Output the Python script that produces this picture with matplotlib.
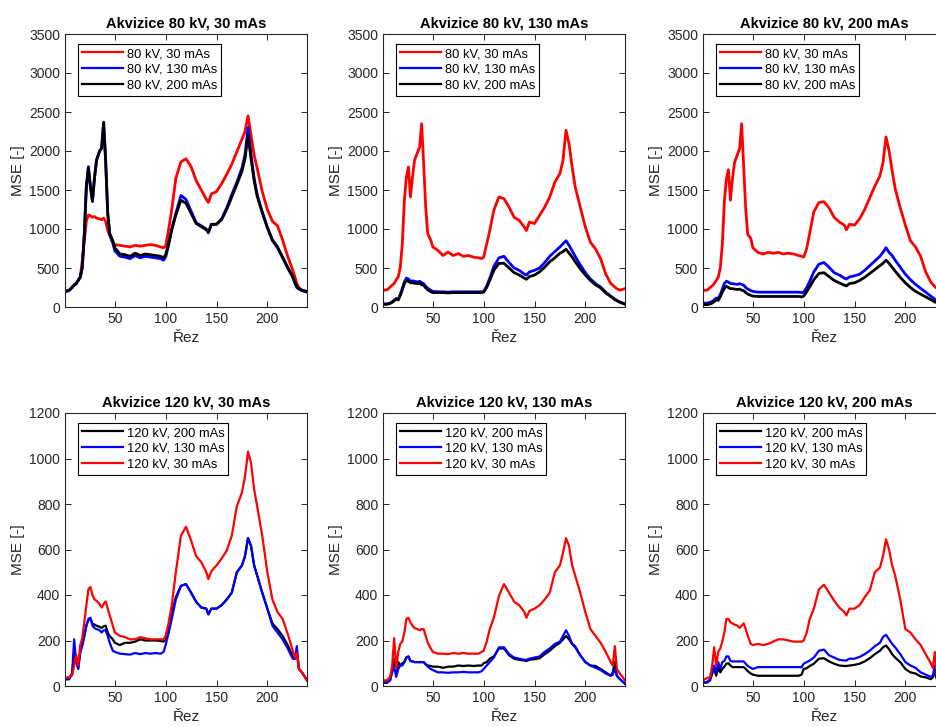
import matplotlib
matplotlib.use("Agg")
import matplotlib.pyplot as plt

plt.rcParams['font.family'] = ['Liberation Sans', 'DejaVu Sans']

# rez (slice index) - shared x grid
rez = [1, 5, 8, 10, 12, 14, 16, 18, 20, 22,
       24, 26, 28, 30, 32, 35, 37, 39, 41, 43,
       45, 48, 50, 55, 60, 65, 70, 75, 80, 85,
       90, 95, 98, 100, 103, 106, 110, 115, 120, 125,
       130, 135, 140, 142, 145, 150, 155, 160, 165, 170,
       175, 178, 181, 184, 187, 190, 195, 200, 205, 210,
       215, 220, 225, 227, 229, 231, 234, 239]

# Akvizice 80 kV, 30 mAs
akv80_30_s30 = [200, 210, 250, 280, 300, 340, 380, 600, 850, 1100,
                1180, 1170, 1150, 1160, 1140, 1130, 1120, 1140, 1100, 980,
                920, 830, 800, 790, 780, 770, 790, 780, 790, 800,
                790, 770, 760, 780, 1000, 1250, 1650, 1860, 1900, 1800,
                1620, 1500, 1380, 1340, 1450, 1480, 1580, 1700, 1830, 1990,
                2150, 2250, 2450, 2200, 1950, 1780, 1480, 1250, 1100, 1040,
                860, 650, 470, 390, 300, 250, 210, 200]
akv80_30_s130 = [200, 210, 250, 280, 300, 340, 380, 500, 950, 1550,
                 1800, 1550, 1350, 1650, 1880, 2000, 2030, 2360, 1850, 1200,
                 930, 820, 720, 650, 640, 620, 660, 630, 650, 640,
                 630, 620, 600, 640, 800, 1000, 1200, 1430, 1380, 1230,
                 1080, 1040, 1000, 950, 1060, 1060, 1130, 1270, 1440, 1600,
                 1780, 1950, 2300, 1950, 1650, 1440, 1220, 1020, 850, 760,
                 630, 500, 380, 310, 250, 230, 210, 190]
akv80_30_s200 = [200, 215, 255, 285, 300, 345, 385, 510, 940, 1540,
                 1780, 1540, 1360, 1660, 1880, 2000, 2040, 2370, 1880, 1200,
                 940, 850, 760, 680, 670, 650, 690, 660, 680, 670,
                 660, 650, 630, 670, 820, 990, 1180, 1370, 1330, 1200,
                 1070, 1030, 990, 960, 1060, 1060, 1120, 1250, 1410, 1570,
                 1740, 1900, 2200, 1900, 1620, 1420, 1210, 1020, 860, 770,
                 640, 510, 390, 320, 260, 240, 215, 200]

# Akvizice 80 kV, 130 mAs
akv80_130_s30 = [215, 220, 255, 280, 300, 350, 385, 510, 810, 1365,
                 1665, 1795, 1410, 1665, 1880, 1985, 2050, 2350, 1835, 1280,
                 940, 855, 770, 725, 660, 705, 660, 685, 650, 660,
                 640, 630, 620, 640, 810, 980, 1240, 1410, 1390, 1280,
                 1150, 1110, 1025, 980, 1090, 1070, 1175, 1280, 1410, 1600,
                 1710, 1880, 2265, 2090, 1795, 1540, 1280, 1025, 830, 745,
                 620, 425, 300, 280, 255, 235, 215, 235]
akv80_130_s130 = [40, 40, 50, 65, 90, 110, 100, 160, 240, 320,
                  370, 360, 330, 335, 330, 320, 330, 310, 300, 265,
                  240, 215, 200, 195, 195, 190, 195, 195, 195, 195,
                  195, 195, 195, 200, 270, 370, 520, 630, 650, 570,
                  500, 470, 420, 410, 450, 470, 500, 570, 650, 710,
                  770, 810, 850, 790, 720, 650, 540, 440, 360, 300,
                  255, 190, 140, 120, 100, 85, 65, 40]
akv80_130_s200 = [35, 35, 45, 60, 80, 100, 90, 150, 220, 300,
                  340, 330, 310, 310, 305, 300, 305, 285, 280, 245,
                  220, 195, 185, 185, 185, 180, 185, 185, 185, 185,
                  185, 185, 185, 190, 250, 340, 470, 560, 560, 500,
                  440, 410, 370, 355, 390, 410, 450, 510, 580, 630,
                  690, 710, 740, 690, 640, 580, 490, 410, 340, 285,
                  245, 180, 135, 115, 95, 80, 60, 35]

# Akvizice 80 kV, 200 mAs
akv80_200_s30 = [215, 215, 250, 270, 300, 340, 380, 500, 800, 1350,
                 1640, 1760, 1370, 1650, 1850, 1960, 2030, 2350, 1800, 1260,
                 930, 880, 760, 700, 680, 700, 690, 700, 680, 690,
                 680, 660, 650, 640, 750, 950, 1220, 1340, 1350, 1270,
                 1150, 1090, 1050, 990, 1060, 1050, 1130, 1250, 1400, 1550,
                 1680, 1850, 2180, 2000, 1750, 1520, 1270, 1050, 850, 770,
                 650, 450, 320, 290, 260, 240, 220, 230]
akv80_200_s130 = [50, 50, 60, 70, 90, 115, 110, 160, 230, 300,
                  330, 320, 300, 300, 295, 290, 300, 290, 280, 250,
                  230, 210, 200, 190, 190, 190, 190, 190, 190, 190,
                  190, 190, 185, 190, 250, 330, 450, 550, 570, 510,
                  440, 410, 370, 360, 385, 400, 420, 470, 530, 590,
                  650, 700, 760, 700, 660, 600, 510, 420, 350, 290,
                  240, 190, 140, 120, 100, 85, 65, 45]
akv80_200_s200 = [30, 30, 40, 50, 70, 90, 85, 130, 190, 240,
                  265, 250, 235, 235, 230, 225, 230, 215, 210, 185,
                  165, 150, 140, 135, 135, 135, 135, 135, 135, 135,
                  135, 135, 130, 140, 195, 260, 350, 430, 440, 390,
                  340, 310, 280, 270, 300, 310, 340, 380, 430, 480,
                  530, 560, 600, 560, 510, 460, 380, 310, 250, 200,
                  165, 130, 95, 80, 65, 55, 40, 25]

# Akvizice 120 kV, 30 mAs
akv120_30_s200 = [30, 30, 55, 150, 110, 80, 150, 180, 220, 265,
                  290, 295, 275, 270, 265, 260, 255, 262, 265, 235,
                  220, 205, 190, 180, 190, 190, 195, 205, 200, 200,
                  200, 198, 195, 205, 265, 320, 390, 440, 448, 410,
                  370, 345, 340, 315, 340, 340, 355, 380, 410, 500,
                  530, 570, 650, 615, 530, 485, 410, 340, 275, 250,
                  220, 180, 130, 120, 150, 75, 60, 25]
akv120_30_s130 = [30, 30, 55, 205, 105, 75, 150, 180, 220, 265,
                  295, 300, 265, 255, 250, 245, 235, 245, 245, 220,
                  190, 155, 150, 142, 140, 138, 145, 140, 145, 142,
                  145, 142, 150, 180, 235, 295, 380, 440, 448, 410,
                  370, 345, 340, 315, 340, 340, 355, 380, 410, 500,
                  530, 570, 650, 615, 530, 485, 410, 340, 265, 235,
                  205, 165, 120, 120, 175, 75, 60, 25]
akv120_30_s30 = [35, 40, 47, 90, 135, 90, 180, 210, 280, 355,
                 425, 435, 400, 380, 375, 360, 345, 360, 372, 340,
                 310, 265, 235, 220, 215, 205, 205, 215, 210, 205,
                 205, 205, 205, 220, 280, 355, 500, 660, 700, 640,
                 570, 545, 500, 470, 505, 530, 560, 595, 660, 790,
                 850, 920, 1030, 980, 865, 790, 660, 500, 380, 325,
                 295, 230, 155, 125, 145, 75, 60, 25]

# Akvizice 120 kV, 130 mAs
akv120_130_s200 = [15, 15, 25, 75, 120, 60, 105, 90, 100, 105,
                   125, 130, 110, 108, 105, 105, 105, 105, 105, 95,
                   90, 88, 85, 85, 80, 85, 85, 90, 88, 90,
                   88, 90, 90, 100, 105, 120, 130, 165, 165, 135,
                   120, 115, 112, 110, 115, 118, 122, 140, 155, 175,
                   190, 205, 220, 205, 185, 170, 135, 105, 90, 88,
                   75, 60, 45, 60, 105, 45, 30, 10]
akv120_130_s130 = [15, 15, 25, 60, 85, 40, 75, 90, 90, 105,
                   125, 130, 110, 108, 105, 105, 105, 105, 105, 95,
                   85, 75, 70, 60, 60, 58, 60, 60, 62, 60,
                   60, 60, 65, 75, 90, 105, 125, 170, 170, 140,
                   125, 120, 115, 115, 120, 125, 130, 150, 165, 185,
                   195, 220, 245, 220, 185, 175, 135, 105, 90, 80,
                   70, 55, 45, 50, 75, 45, 30, 10]
akv120_130_s30 = [25, 25, 40, 90, 210, 75, 150, 185, 195, 235,
                  295, 300, 280, 265, 255, 250, 245, 250, 250, 220,
                  190, 165, 150, 142, 142, 140, 145, 142, 145, 142,
                  142, 142, 150, 155, 195, 250, 300, 395, 448, 410,
                  370, 355, 325, 300, 330, 340, 355, 380, 410, 500,
                  530, 585, 650, 615, 530, 485, 410, 325, 250, 220,
                  190, 150, 105, 90, 175, 75, 55, 25]

# Akvizice 120 kV, 200 mAs
akv120_200_s200 = [15, 15, 25, 55, 75, 45, 80, 60, 75, 85,
                   98, 100, 90, 83, 83, 83, 83, 83, 83, 75,
                   65, 55, 50, 45, 45, 45, 45, 45, 45, 45,
                   45, 45, 50, 75, 78, 88, 98, 120, 122, 108,
                   98, 90, 88, 88, 90, 93, 98, 108, 122, 140,
                   155, 170, 178, 162, 140, 125, 105, 75, 60, 55,
                   42, 38, 30, 38, 60, 30, 20, 10]
akv120_200_s130 = [15, 18, 30, 60, 90, 60, 105, 75, 105, 110,
                   130, 130, 110, 108, 108, 108, 108, 108, 108, 98,
                   88, 80, 75, 83, 83, 83, 83, 83, 83, 83,
                   83, 83, 83, 98, 105, 112, 125, 155, 160, 135,
                   125, 115, 112, 112, 120, 120, 128, 140, 155, 175,
                   190, 215, 225, 205, 185, 170, 140, 105, 90, 80,
                   60, 50, 40, 45, 90, 40, 25, 10]
akv120_200_s30 = [25, 35, 40, 90, 170, 90, 150, 165, 195, 235,
                  295, 295, 280, 275, 270, 265, 255, 265, 275, 250,
                  220, 185, 180, 185, 180, 185, 195, 205, 205, 200,
                  195, 195, 195, 200, 235, 295, 340, 425, 445, 410,
                  375, 345, 325, 310, 340, 340, 355, 390, 420, 500,
                  520, 570, 645, 600, 530, 485, 380, 250, 235, 205,
                  180, 140, 100, 80, 150, 55, 30, 15]

titles = ['Akvizice 80 kV, 30 mAs', 'Akvizice 80 kV, 130 mAs', 'Akvizice 80 kV, 200 mAs',
          'Akvizice 120 kV, 30 mAs', 'Akvizice 120 kV, 130 mAs', 'Akvizice 120 kV, 200 mAs']
labels80 = ['80 kV, 30 mAs', '80 kV, 130 mAs', '80 kV, 200 mAs']
labels120 = ['120 kV, 200 mAs', '120 kV, 130 mAs', '120 kV, 30 mAs']
colors80 = ['#ff0000', '#0000ff', '#000000']
colors120 = ['#000000', '#0000ff', '#ff0000']

panels = [
    [akv80_30_s30, akv80_30_s130, akv80_30_s200],
    [akv80_130_s30, akv80_130_s130, akv80_130_s200],
    [akv80_200_s30, akv80_200_s130, akv80_200_s200],
    [akv120_30_s200, akv120_30_s130, akv120_30_s30],
    [akv120_130_s200, akv120_130_s130, akv120_130_s30],
    [akv120_200_s200, akv120_200_s130, akv120_200_s30],
]

gray = '#262626'
fig = plt.figure(figsize=(9.36, 7.27), dpi=100)

lefts = [65, 383, 703]
tops = [34, 413]
W, H = 936, 727
aw, ah = 242, 273

for i, series in enumerate(panels):
    r, c = divmod(i, 3)
    ax = fig.add_axes([lefts[c] / W, 1 - (tops[r] + ah) / H, aw / W, ah / H])
    labs = labels80 if r == 0 else labels120
    cols = colors80 if r == 0 else colors120
    lw = 2.0 if r == 0 else 1.6
    for ys, lab, col in zip(series, labs, cols):
        ax.plot(rez, ys, color=col, lw=lw, label=lab)
    ax.set_xlim(1, 239)
    ax.set_xticks([50, 100, 150, 200])
    if r == 0:
        ax.set_ylim(0, 3500)
        ax.set_yticks(range(0, 3501, 500))
    else:
        ax.set_ylim(0, 1200)
        ax.set_yticks(range(0, 1201, 200))
    ax.set_title(titles[i], fontsize=10.5, fontweight='bold', pad=5)
    ax.set_xlabel('Řez', fontsize=11, color=gray, labelpad=4)
    ax.set_ylabel('MSE [-]', fontsize=11, color=gray, labelpad=3)
    ax.tick_params(direction='in', top=True, right=True, length=4,
                   labelsize=10, colors=gray, width=0.7)
    for s in ax.spines.values():
        s.set_color(gray)
        s.set_linewidth(0.8)
    leg = ax.legend(loc='upper left', bbox_to_anchor=(0.054, 0.963), borderaxespad=0,
                    fontsize=9.3, handlelength=3.2, handletextpad=0.25,
                    labelspacing=0.3, borderpad=0.3, fancybox=False, framealpha=1)
    leg.get_frame().set_edgecolor('#000000')
    leg.get_frame().set_linewidth(0.8)
    for ln in leg.get_lines():
        ln.set_linewidth(1.6)

fig.savefig('out.png', dpi=100)
